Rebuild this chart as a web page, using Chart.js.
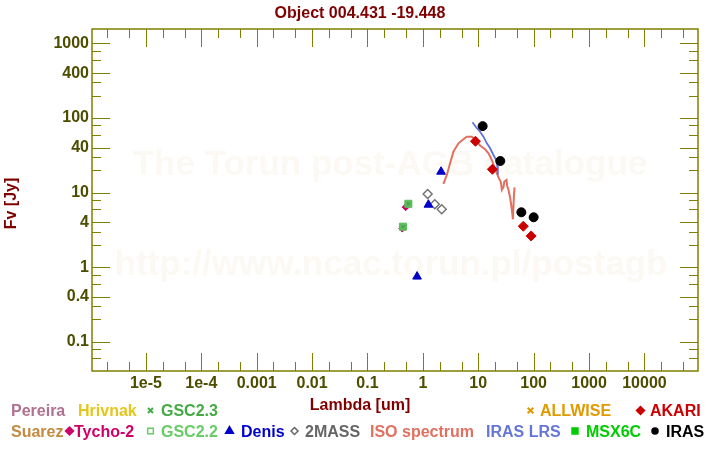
<!DOCTYPE html>
<html>
<head>
<meta charset="utf-8">
<script src="https://cdn.jsdelivr.net/npm/chart.js@4.4.1/dist/chart.umd.min.js"></script>
<style>
  html, body { margin: 0; padding: 0; background: #fff; }
  #wrap { width: 720px; height: 450px; }
</style>
</head>
<body>
<div id="wrap"><canvas id="sed" width="720" height="450"></canvas></div>
<script>
// -----------------------
// Data (wavelength in um, flux in Jy)
// -----------------------
const isoLambda = [2.35, 2.71, 3.10, 3.56, 4.39, 5.40, 6.22, 7.66, 8.79, 10.8, 13.3, 15.3, 17.6, 20.2, 23.2, 25.6, 26.7, 28.6, 29.4, 32.4, 33.3, 35.2, 37.8, 40.5, 42.2, 44.0, 45.2];
const isoFlux   = [13.1, 17.3, 24.8, 35.4, 45.9, 52.0, 56.3, 56.3, 52.0, 42.9, 38.2, 33.7, 27.4, 20.8, 16.0, 13.9, 10.9, 11.9, 14.0, 14.8, 12.3, 10.9, 8.41, 5.86, 4.40, 8.84, 11.8];

const lrsLambda = [7.85, 9.43, 10.8, 12.4, 14.3, 16.4, 18.8, 21.1, 22.0, 22.6];
const lrsFlux   = [87.9, 73.0, 65.7, 56.3, 45.9, 39.4, 32.0, 27.4, 22.8, 17.3];

const irasLambda = [12, 25, 60, 100];
const irasFlux   = [78, 26.6, 5.46, 4.68];

const akariLambda = [8.9, 18, 65, 90];
const akariFlux   = [48.9, 20.6, 3.55, 2.63];

const denisLambda = [2.13, 1.26, 0.786];
const denisFlux   = [19.1, 6.9, 0.75];

const twomassLambda = [1.22, 1.64, 2.19];
const twomassFlux   = [9.6, 7.0, 6.0];

const gsc22Lambda = [0.547, 0.437];
const gsc22Flux   = [7.1, 3.5];

const gsc23Lambda = [0.547, 0.437];
const gsc23Flux   = [7.1, 3.5];

const tychoLambda = [0.49, 0.425];
const tychoFlux   = [6.4, 3.3];

const xTickValues = [1e-5, 1e-4, 0.001, 0.01, 0.1, 1, 10, 100, 1000, 10000];
const xTickLabels = ['1e-5', '1e-4', '0.001', '0.01', '0.1', '1', '10', '100', '1000', '10000'];
const yTickValues = [1000, 400, 100, 40, 10, 4, 1, 0.4, 0.1];
const yTickLabels = ['1000', '400', '100', '40', '10', '4', '1', '0.4', '0.1'];

const X_MIN = 1.064e-6, X_MAX = 9.27e4;
const Y_MIN = 0.0407, Y_MAX = 1564;

// -----------------------
// Styles
// -----------------------
const FONT = "'Liberation Sans', Arial, sans-serif";
const AXIS = '#808000';
const TICK_TXT = '#4d4d00';
const DARK_RED = '#800000';

const pairs = (xs, ys) => xs.map((x, i) => ({ x, y: ys[i] }));

function pointSet(label, xs, ys, style, opts) {
  return Object.assign({
    label, data: pairs(xs, ys), showLine: false,
    pointStyle: style, pointRadius: 4.5, pointBorderWidth: 1
  }, opts);
}

const datasets = [
  { label: 'ISO spectrum', data: pairs(isoLambda, isoFlux), showLine: true, pointRadius: 0,
    borderColor: '#e07060', borderWidth: 2, order: 20 },
  { label: 'IRAS LRS', data: pairs(lrsLambda, lrsFlux), showLine: true, pointRadius: 0,
    borderColor: '#6272d6', borderWidth: 1.8, order: 19 },
  pointSet('Tycho-2', tychoLambda, tychoFlux, 'rectRot',
    { pointRadius: 3.5, backgroundColor: '#d0006a', borderColor: '#d0006a', order: 8 }),
  pointSet('GSC2.2', gsc22Lambda, gsc22Flux, 'rect',
    { pointRadius: 5, backgroundColor: '#5cbb5c', borderColor: '#5cbb5c', order: 7 }),
  pointSet('GSC2.3', gsc23Lambda, gsc23Flux, 'crossRot',
    { pointRadius: 2, backgroundColor: '#3a9a3a', borderColor: '#3a9a3a', order: 6 }),
  pointSet('2MASS', twomassLambda, twomassFlux, 'rectRot',
    { pointRadius: 4.5, backgroundColor: 'rgba(0,0,0,0)', borderColor: '#707070', pointBorderWidth: 1.4, order: 5 }),
  pointSet('Denis', denisLambda, denisFlux, 'triangle',
    { pointRadius: 5, backgroundColor: '#0000c8', borderColor: '#0000c8', order: 4 }),
  pointSet('AKARI', akariLambda, akariFlux, 'rectRot',
    { pointRadius: 5, backgroundColor: '#cc0000', borderColor: '#cc0000', order: 3 }),
  pointSet('IRAS', irasLambda, irasFlux, 'circle',
    { pointRadius: 4.5, backgroundColor: '#000000', borderColor: '#000000', order: 2 })
];

// -----------------------
// Legend entries (text, colour, marker)
// -----------------------
const legendItems = [
  { text: 'Pereira', color: '#b07090', x: 11, row: 0 },
  { text: 'Hrivnak', color: '#e6c619', x: 78, row: 0 },
  { text: 'GSC2.3', color: '#44aa44', x: 161, row: 0, marker: { style: 'crossRot', x: 150.5, r: 3.5 } },
  { text: 'ALLWISE', color: '#e09a00', x: 540, row: 0, marker: { style: 'crossRot', x: 530.5, r: 4 } },
  { text: 'AKARI', color: '#cc0000', x: 650, row: 0, marker: { style: 'rectRot', x: 640.5, r: 4, fill: true } },
  { text: 'Suarez', color: '#c48a40', x: 11, row: 1 },
  { text: 'Tycho-2', color: '#d0006a', x: 74, row: 1, marker: { style: 'rectRot', x: 69.5, r: 4, fill: true } },
  { text: 'GSC2.2', color: '#66cc66', x: 161, row: 1, marker: { style: 'rect', x: 150.5, r: 4 } },
  { text: 'Denis', color: '#0000cc', x: 241, row: 1, marker: { style: 'triangle', x: 229.5, r: 4.5, fill: true } },
  { text: '2MASS', color: '#666666', x: 305, row: 1, marker: { style: 'rectRot', x: 294.5, r: 3.5 } },
  { text: 'ISO spectrum', color: '#e07060', x: 370, row: 1 },
  { text: 'IRAS LRS', color: '#6676d8', x: 486, row: 1 },
  { text: 'MSX6C', color: '#00cc00', x: 586, row: 1, marker: { style: 'rect', x: 575, r: 4.2, fill: true } },
  { text: 'IRAS', color: '#000000', x: 666, row: 1, marker: { style: 'circle', x: 655, r: 3, fill: true } }
];
const legendBaselines = [416, 436.5];

// -----------------------
// Decorations: frame, inward ticks, titles, watermark, legend
// -----------------------
const decor = {
  id: 'decor',
  beforeDatasetsDraw(chart) {
    const { ctx } = chart;
    ctx.save();
    ctx.fillStyle = 'rgb(252,249,244)';
    ctx.textAlign = 'center';
    ctx.textBaseline = 'alphabetic';
    ctx.font = `bold 35px ${FONT}`;
    ctx.fillText('The Torun post-AGB catalogue', 390, 175);
    ctx.fillText('http://www.ncac.torun.pl/postagb', 391, 275);
    ctx.restore();
  },
  afterDraw(chart) {
    const { ctx, chartArea: a, scales } = chart;
    ctx.save();

    // ticks
    ctx.strokeStyle = AXIS;
    ctx.lineWidth = 1;
    ctx.beginPath();
    for (let e = -7; e <= 5; e++) {
      [1, 2, 5].forEach(m => {
        const v = m * Math.pow(10, e);
        if (v <= X_MIN || v >= X_MAX) return;
        const px = Math.round(scales.x.getPixelForValue(v)) + 0.5;
        const len = m === 1 ? 18 : 9;
        ctx.moveTo(px, a.bottom); ctx.lineTo(px, a.bottom - len);
        ctx.moveTo(px, a.top); ctx.lineTo(px, a.top + len);
      });
      [1, 2, 3, 4, 6, 8].forEach(m => {
        const v = m * Math.pow(10, e);
        if (v <= Y_MIN || v >= Y_MAX) return;
        const py = Math.round(scales.y.getPixelForValue(v)) + 0.5;
        const len = (m === 1 || m === 4) ? 18 : 9;
        ctx.moveTo(a.left, py); ctx.lineTo(a.left + len, py);
        ctx.moveTo(a.right, py); ctx.lineTo(a.right - len, py);
      });
    }
    ctx.stroke();

    // frame
    ctx.lineWidth = 1.5;
    ctx.strokeRect(a.left, a.top, a.right - a.left, a.bottom - a.top);

    // titles
    ctx.fillStyle = DARK_RED;
    ctx.textAlign = 'center';
    ctx.textBaseline = 'alphabetic';
    ctx.font = `bold 16px ${FONT}`;
    ctx.fillText('Object 004.431 -19.448', 360, 18);
    ctx.fillText('Lambda [um]', 360, 410);
    ctx.save();
    ctx.translate(15.5, 203.5);
    ctx.rotate(-Math.PI / 2);
    ctx.fillText('Fv [Jy]', 0, 0);
    ctx.restore();

    // legend
    ctx.textAlign = 'left';
    ctx.font = `bold 16px ${FONT}`;
    legendItems.forEach(it => {
      const base = legendBaselines[it.row];
      ctx.fillStyle = it.color;
      ctx.fillText(it.text, it.x, base);
      if (it.marker) {
        const mk = it.marker;
        ctx.fillStyle = mk.fill ? it.color : 'rgba(0,0,0,0)';
        ctx.strokeStyle = it.color;
        ctx.lineWidth = mk.style === 'crossRot' ? 2 : 1.5;
        Chart.helpers.drawPoint(ctx, { pointStyle: mk.style, radius: mk.r, borderWidth: ctx.lineWidth }, mk.x, base - 5.5);
      }
    });
    ctx.restore();
  }
};

// -----------------------
// Chart
// -----------------------
function initChart() {
  const tickFont = { family: FONT, size: 16, weight: 'bold' };
  new Chart(document.getElementById('sed').getContext('2d'), {
    type: 'scatter',
    data: { datasets },
    options: {
      responsive: false,
      animation: false,
      layout: { padding: { top: 29, right: 22, left: 0, bottom: 0 } },
      plugins: { legend: { display: false }, tooltip: { enabled: false }, title: { display: false } },
      scales: {
        x: {
          type: 'logarithmic', min: X_MIN, max: X_MAX,
          grid: { display: false, drawTicks: false }, border: { display: false },
          afterBuildTicks: s => { s.ticks = xTickValues.map(v => ({ value: v })); },
          afterFit: s => { s.height = 79; },
          ticks: { autoSkip: false, maxRotation: 0, padding: 3, color: TICK_TXT, font: tickFont,
                   callback: (v, i) => xTickLabels[i] }
        },
        y: {
          type: 'logarithmic', min: Y_MIN, max: Y_MAX,
          grid: { display: false, drawTicks: false }, border: { display: false },
          afterBuildTicks: s => { s.ticks = yTickValues.map(v => ({ value: v })); },
          afterFit: s => { s.width = 92; },
          ticks: { autoSkip: false, padding: 3, color: TICK_TXT, font: tickFont,
                   callback: (v, i) => yTickLabels[i] }
        }
      }
    },
    plugins: [decor]
  });
}

document.addEventListener('DOMContentLoaded', initChart);
</script>
</body>
</html>
